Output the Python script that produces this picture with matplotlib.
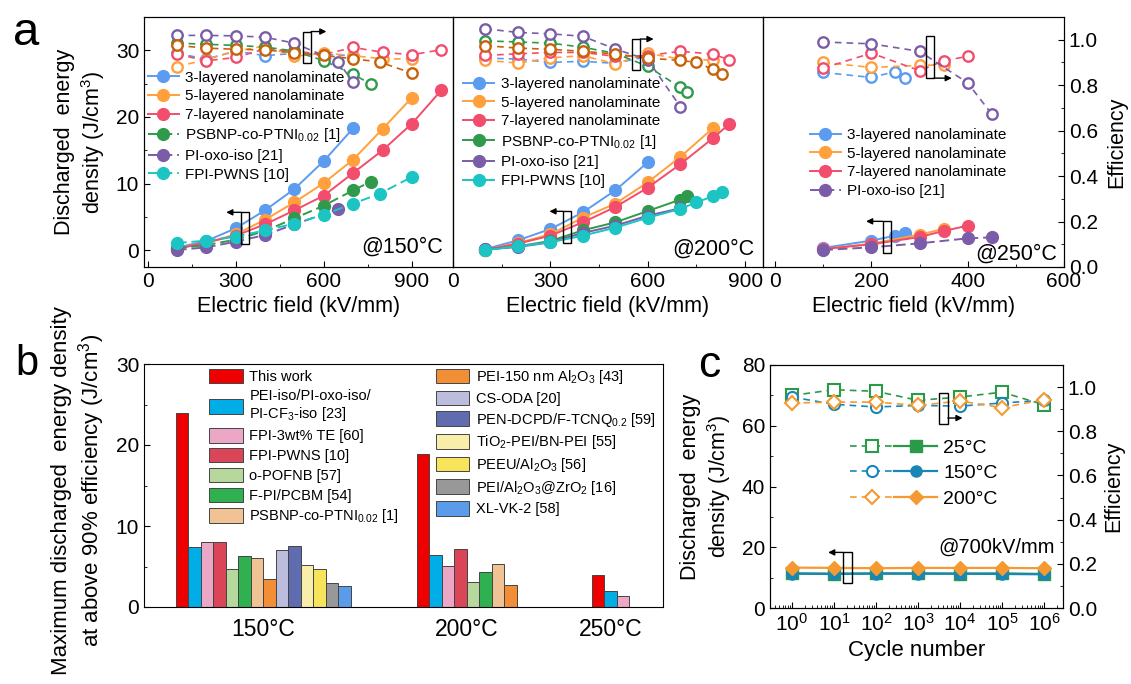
import numpy as np
import matplotlib
matplotlib.use('Agg')
import matplotlib.pyplot as plt
from matplotlib.patches import Rectangle, Patch
from matplotlib.ticker import MultipleLocator, LogLocator, NullFormatter
from matplotlib.legend_handler import HandlerTuple

plt.rcParams['font.family'] = ['Liberation Sans', 'DejaVu Sans']
plt.rcParams['mathtext.fontset'] = 'custom'
plt.rcParams['mathtext.rm'] = 'Liberation Sans'
plt.rcParams['mathtext.it'] = 'Liberation Sans:italic'
plt.rcParams['mathtext.bf'] = 'Liberation Sans:bold'
plt.rcParams['xtick.direction'] = 'in'
plt.rcParams['ytick.direction'] = 'in'
plt.rcParams['xtick.major.size'] = 4
plt.rcParams['ytick.major.size'] = 4
plt.rcParams['xtick.minor.size'] = 2.2
plt.rcParams['ytick.minor.size'] = 2.2

# colores
C3 = '#5b9cf0'
C5 = '#ffa03c'
C7 = '#f24d6c'
CPS = '#2f9a4c'
CPI = '#7b5ca8'
CFP = '#1cc4c4'
CFP_EFF = '#c8620a'

# ---------------- panel a: 150 C ----------------
a150_3_x = [100, 200, 300, 400, 500, 600, 700]
a150_3_E = [0.4, 1.4, 3.3, 6.0, 9.2, 13.4, 18.3]
a150_3_eff = [0.94, 0.915, 0.95, 0.93, 0.94, 0.935, 0.93]
a150_5_x = [100, 200, 300, 400, 500, 600, 700, 800, 900]
a150_5_E = [0.3, 1.1, 2.4, 4.6, 7.2, 10.1, 13.6, 18.2, 22.9]
a150_5_eff = [0.882, 0.912, 0.95, 0.972, 0.927, 0.941, 0.93, 0.916, 0.915]
a150_7_x = [100, 200, 300, 400, 500, 600, 700, 800, 900, 1000]
a150_7_E = [0.2, 1.2, 2.2, 3.9, 6.0, 8.2, 11.6, 15.0, 19.0, 24.0]
a150_7_eff = [0.937, 0.907, 0.922, 0.96, 0.95, 0.935, 0.966, 0.945, 0.934, 0.956]
a150_ps_x = [100, 200, 300, 400, 500, 600, 700, 760]
a150_ps_E = [0.3, 0.8, 1.6, 2.9, 4.8, 6.7, 9.0, 10.3]
a150_ps_eff = [0.985, 0.98, 0.975, 0.968, 0.95, 0.908, 0.848, 0.805]
a150_pi_x = [100, 200, 300, 400, 500, 650]
a150_pi_E = [0.05, 0.45, 1.3, 2.3, 3.9, 6.2]
a150_pi_eff_x = [100, 200, 300, 400, 500, 650, 700]
a150_pi_eff = [1.019, 1.019, 1.017, 1.011, 0.985, 0.902, 0.813]
a150_fp_x = [100, 200, 300, 400, 500, 600, 700, 790, 900]
a150_fp_E = [1.1, 1.45, 2.05, 3.0, 4.0, 5.35, 7.0, 8.5, 11.0]
a150_fp_eff = [0.975, 0.963, 0.958, 0.955, 0.943, 0.931, 0.916, 0.902, 0.853]

# ---------------- panel a: 200 C ----------------
a200_3_x = [100, 200, 300, 400, 500, 600]
a200_3_E = [0.2, 1.5, 3.2, 5.7, 9.0, 13.2]
a200_3_eff = [0.919, 0.915, 0.9, 0.905, 0.896, 0.927]
a200_5_x = [100, 200, 300, 400, 500, 600, 700, 800]
a200_5_E = [0.1, 1.1, 2.4, 4.9, 7.0, 10.2, 14.0, 18.3]
a200_5_eff = [0.91, 0.897, 0.92, 0.93, 0.894, 0.94, 0.915, 0.91]
a200_7_x = [100, 200, 300, 400, 500, 600, 700, 800, 850]
a200_7_E = [0.1, 1.0, 2.2, 4.2, 6.5, 9.4, 12.9, 16.8, 18.9]
a200_7_eff = [0.931, 0.938, 0.944, 0.944, 0.927, 0.93, 0.949, 0.937, 0.912]
a200_ps_x = [100, 200, 300, 400, 500, 600, 700, 720]
a200_ps_E = [0.1, 0.6, 1.4, 3.0, 4.2, 5.9, 7.6, 8.1]
a200_ps_eff = [0.995, 0.99, 0.985, 0.967, 0.94, 0.883, 0.79, 0.772]
a200_pi_x = [100, 200, 300, 400, 500, 600, 700]
a200_pi_E = [0.15, 0.5, 1.2, 2.6, 3.7, 5.2, 6.3]
a200_pi_eff = [1.048, 1.032, 1.026, 1.015, 0.959, 0.912, 0.706]
a200_fp_x = [100, 200, 300, 400, 500, 600, 700, 750, 800, 830]
a200_fp_E = [0.05, 0.6, 1.2, 2.2, 3.4, 4.9, 6.2, 7.2, 8.1, 8.8]
a200_fp_eff = [0.974, 0.963, 0.958, 0.949, 0.937, 0.919, 0.909, 0.9, 0.87, 0.85]

# ---------------- panel a: 250 C ----------------
a250_3_x = [100, 200, 250, 270]
a250_3_E = [0.36, 1.46, 2.2, 2.6]
a250_3_eff = [0.856, 0.834, 0.86, 0.831]
a250_5_x = [100, 200, 300, 350]
a250_5_E = [0.2, 1.0, 2.36, 3.2]
a250_5_eff = [0.9, 0.878, 0.887, 0.89]
a250_7_x = [100, 200, 300, 350, 400]
a250_7_E = [0.2, 0.9, 2.0, 2.9, 3.7]
a250_7_eff = [0.875, 0.941, 0.864, 0.907, 0.927]
a250_pi_x = [100, 200, 300, 400, 450]
a250_pi_E = [0.05, 0.45, 1.05, 1.8, 1.95]
a250_pi_eff = [0.99, 0.982, 0.949, 0.81, 0.673]

# ---------------- panel b ----------------
b_labels = ['This work', 'PEI-iso/PI-oxo-iso/\nPI-CF$_3$-iso [23]', 'FPI-3wt% TE [60]',
            'FPI-PWNS [10]', 'o-POFNB [57]', 'F-PI/PCBM [54]', 'PSBNP-co-PTNI$_{0.02}$ [1]',
            'PEI-150 nm Al$_2$O$_3$ [43]', 'CS-ODA [20]', 'PEN-DCPD/F-TCNQ$_{0.2}$ [59]',
            'TiO$_2$-PEI/BN-PEI [55]', 'PEEU/Al$_2$O$_3$ [56]', 'PEI/Al$_2$O$_3$@ZrO$_2$ [16]',
            'XL-VK-2 [58]']
b_colors = ['#ee0000', '#00ade6', '#eca6c6', '#da4658', '#b6d89c', '#2fb152', '#f0c294',
            '#f28e36', '#bcbcdc', '#5f6db0', '#f8eeaa', '#f8e45a', '#989898', '#5a9cea']
b_groups = ['150°C', '200°C', '250°C']
b_150 = [24.0, 7.4, 8.0, 8.0, 4.7, 6.3, 6.1, 3.45, 7.0, 7.5, 5.2, 4.7, 3.0, 2.6]
b_200 = [18.9, 6.4, 5.1, 7.1, 3.1, 4.3, 5.3, 2.7]
b_250 = [3.9, 2.0, 1.3]

# ---------------- panel c ----------------
c_cycles = [1, 10, 100, 1e3, 1e4, 1e5, 1e6]
c_E25 = [11.4, 11.3, 11.4, 11.4, 11.3, 11.4, 11.2]
c_E150 = [11.3, 11.2, 11.3, 11.3, 11.3, 11.2, 11.1]
c_E200 = [13.3, 13.2, 13.1, 13.2, 13.2, 13.2, 13.1]
c_eff25 = [0.962, 0.988, 0.981, 0.94, 0.955, 0.977, 0.92]
c_eff150 = [0.955, 0.922, 0.91, 0.917, 0.914, 0.928, 0.94]
c_eff200 = [0.928, 0.932, 0.932, 0.917, 0.937, 0.907, 0.943]

W, H = 1131, 684
fig = plt.figure(figsize=(W / 100, H / 100), dpi=100)


def px_axes(x0, x1, y0, y1):
    return fig.add_axes([x0 / W, 1 - y1 / H, (x1 - x0) / W, (y1 - y0) / H])


def box_arrow(ax, x0, x1, y0, y1, ya, xa_from, xa_to):
    ax.add_patch(Rectangle((x0, y0), x1 - x0, y1 - y0, fill=False, ec='k', lw=1.0, zorder=6))
    ax.annotate('', xy=(xa_to, ya), xytext=(xa_from, ya),
                arrowprops=dict(arrowstyle='-|>', color='k', lw=1.0, mutation_scale=9,
                                shrinkA=0, shrinkB=0), zorder=6)


def draw_a(ax, axr, curves):
    for name, col, ecol, x, E, ls, ex, eff in curves:
        axr.plot(ex, eff, ls=(0, (4, 3)), color=ecol, lw=1.2, marker='o', ms=7.5,
                 mfc='white', mec=ecol, mew=1.7)
        ax.plot(x, E, ls=ls, color=col, lw=1.4, marker='o', ms=8.5, mec=col, label=name)


axes_a = [px_axes(144, 453, 17, 267), px_axes(453, 763, 17, 267), px_axes(763, 1064, 17, 267)]
curves_150 = [
    ('3-layered nanolaminate', C3, C3, a150_3_x, a150_3_E, '-', a150_3_x, a150_3_eff),
    ('5-layered nanolaminate', C5, C5, a150_5_x, a150_5_E, '-', a150_5_x, a150_5_eff),
    ('7-layered nanolaminate', C7, C7, a150_7_x, a150_7_E, '-', a150_7_x, a150_7_eff),
    ('PSBNP-co-PTNI$_{0.02}$ [1]', CPS, CPS, a150_ps_x, a150_ps_E, (0, (5, 2.5)), a150_ps_x, a150_ps_eff),
    ('PI-oxo-iso [21]', CPI, CPI, a150_pi_x, a150_pi_E, (0, (5, 2.5)), a150_pi_eff_x, a150_pi_eff),
    ('FPI-PWNS [10]', CFP, CFP_EFF, a150_fp_x, a150_fp_E, (0, (5, 2.5)), a150_fp_x, a150_fp_eff),
]
curves_200 = [
    ('3-layered nanolaminate', C3, C3, a200_3_x, a200_3_E, '-', a200_3_x, a200_3_eff),
    ('5-layered nanolaminate', C5, C5, a200_5_x, a200_5_E, '-', a200_5_x, a200_5_eff),
    ('7-layered nanolaminate', C7, C7, a200_7_x, a200_7_E, '-', a200_7_x, a200_7_eff),
    ('PSBNP-co-PTNI$_{0.02}$ [1]', CPS, CPS, a200_ps_x, a200_ps_E, '-', a200_ps_x, a200_ps_eff),
    ('PI-oxo-iso [21]', CPI, CPI, a200_pi_x, a200_pi_E, '-', a200_pi_x, a200_pi_eff),
    ('FPI-PWNS [10]', CFP, CFP_EFF, a200_fp_x, a200_fp_E, '-', a200_fp_x, a200_fp_eff),
]
curves_250 = [
    ('3-layered nanolaminate', C3, C3, a250_3_x, a250_3_E, '-', a250_3_x, a250_3_eff),
    ('5-layered nanolaminate', C5, C5, a250_5_x, a250_5_E, '-', a250_5_x, a250_5_eff),
    ('7-layered nanolaminate', C7, C7, a250_7_x, a250_7_E, '-', a250_7_x, a250_7_eff),
    ('PI-oxo-iso [21]', CPI, CPI, a250_pi_x, a250_pi_E, (0, (5, 2.5)), a250_pi_x, a250_pi_eff),
]
all_curves = [curves_150, curves_200, curves_250]
xlims = [(-12, 1040), (0, 955), (-25, 600)]
xmaj = [300, 300, 200]
temps = ['@150°C', '@200°C', '@250°C']
leg_anchor = [(0.013, 0.785), (0.033, 0.76), (0.156, 0.555)]
temp_pos = [(0.968, 0.056), (0.971, 0.048), (0.977, 0.028)]
boxes_E = [(319, 345, 0.9, 5.7, 268), (340, 364, 1.15, 5.85, 297), (224, 240, -0.4, 4.35, 189)]
boxes_eff = [(530, 557, 0.897, 1.036, 1.036, 609), (551, 577, 0.865, 1.003, 1.003, 618),
             (314, 330, 0.831, 1.018, 0.831, 367)]

for i, ax in enumerate(axes_a):
    axr = ax.twinx()
    draw_a(ax, axr, all_curves[i])
    ax.set_xlim(*xlims[i])
    ax.set_ylim(-2.5, 35)
    axr.set_ylim(0, 1.1)
    ax.xaxis.set_major_locator(MultipleLocator(xmaj[i]))
    ax.xaxis.set_minor_locator(MultipleLocator(xmaj[i] / 2))
    ax.yaxis.set_major_locator(MultipleLocator(10))
    ax.yaxis.set_minor_locator(MultipleLocator(5))
    axr.yaxis.set_major_locator(MultipleLocator(0.2))
    axr.yaxis.set_minor_locator(MultipleLocator(0.1))
    ax.tick_params(labelsize=15)
    axr.tick_params(labelsize=15)
    if i > 0:
        ax.tick_params(axis='y', which='both', left=False, labelleft=False)
    if i < 2:
        axr.tick_params(axis='y', which='both', right=False, labelright=False)
    ax.set_xlabel('Electric field (kV/mm)', fontsize=15.5)
    ax.text(temp_pos[i][0], temp_pos[i][1], temps[i], transform=ax.transAxes,
            ha='right', va='baseline', fontsize=15.5)
    ax.legend(loc='upper left', bbox_to_anchor=leg_anchor[i], borderaxespad=0, borderpad=0,
              frameon=False, fontsize=11, handlelength=2.0, handletextpad=0.45,
              labelspacing=0.3)
    x0, x1, y0, y1, xt = boxes_E[i]
    box_arrow(ax, x0, x1, y0, y1, y1, x0, xt)
    x0, x1, y0, y1, ya, xt = boxes_eff[i]
    box_arrow(axr, x0, x1, y0, y1, ya, x1, xt)
    if i == 0:
        ax.set_ylabel('Discharged  energy\ndensity (J/cm$^3$)', fontsize=15.5)
        ax.yaxis.set_label_coords(-0.12, 0.5)
    if i == 2:
        axr.set_ylabel('Efficiency', fontsize=15.5)
        axr.yaxis.set_label_coords(1.14, 0.5)

# ---------------- panel b ----------------
ax_b = px_axes(144, 663, 364, 607)
starts = [0.0, 19.3, 33.3]
centers = []
for s, vals in zip(starts, [b_150, b_200, b_250]):
    pos = s + np.arange(len(vals))
    ax_b.bar(pos, vals, width=1.0, color=b_colors[:len(vals)], edgecolor='#444444', linewidth=0.7)
    centers.append(s + (len(vals) - 1) / 2)
ax_b.set_xlim(-3.04, 38.5)
ax_b.set_ylim(0, 30)
ax_b.set_xticks(centers)
ax_b.set_xticklabels(b_groups, fontsize=16.5)
ax_b.tick_params(axis='x', length=0, pad=8)
ax_b.yaxis.set_major_locator(MultipleLocator(10))
ax_b.yaxis.set_minor_locator(MultipleLocator(5))
ax_b.tick_params(axis='y', labelsize=15)
ax_b.set_ylabel('Maximum discharged  energy density\nat above 90% efficiency (J/cm$^3$)', fontsize=16)
ax_b.yaxis.set_label_coords(-0.071, 0.48)
handles_b = [Patch(facecolor=c, edgecolor='#444444', linewidth=0.7, label=l)
             for c, l in zip(b_colors, b_labels)]
ax_b.legend(handles=handles_b, ncol=2, loc='upper left', bbox_to_anchor=(0.12, 0.995),
            borderaxespad=0, borderpad=0.2, frameon=False, fontsize=10.5, handlelength=2.3,
            handleheight=1.15, handletextpad=0.45, labelspacing=0.32, columnspacing=2.5)

# ---------------- panel c ----------------
ax_c = px_axes(770, 1063, 365, 608)
ax_c.set_xscale('log')
axr_c = ax_c.twinx()
CG = '#2a9a48'
CB = '#1a86b6'
CO = '#f59a30'
series_c = [('25°C', CG, 's', c_E25, c_eff25), ('150°C', CB, 'o', c_E150, c_eff150),
            ('200°C', CO, 'D', c_E200, c_eff200)]
leg_h = []
for name, col, mk, E, eff in series_c:
    ms = 7 if mk == 'D' else 8
    le, = axr_c.plot(c_cycles, eff, ls=(0, (4, 3)), color=col, lw=1.2, marker=mk, ms=ms,
                     mfc='white', mec=col, mew=1.5)
    lf, = ax_c.plot(c_cycles, E, ls='-', color=col, lw=1.6, marker=mk, ms=ms, mec=col)
    leg_h.append((le, lf))
ax_c.set_xlim(10 ** -0.52, 10 ** 6.45)
ax_c.set_ylim(0, 80)
axr_c.set_ylim(0, 1.1)
ax_c.xaxis.set_major_locator(LogLocator(base=10, numticks=20))
ax_c.xaxis.set_minor_locator(LogLocator(base=10, subs=np.arange(2, 10), numticks=20))
ax_c.xaxis.set_minor_formatter(NullFormatter())
ax_c.yaxis.set_major_locator(MultipleLocator(20))
ax_c.yaxis.set_minor_locator(MultipleLocator(10))
axr_c.yaxis.set_major_locator(MultipleLocator(0.2))
axr_c.yaxis.set_minor_locator(MultipleLocator(0.1))
ax_c.tick_params(labelsize=15)
axr_c.tick_params(labelsize=15)
ax_c.set_xlabel('Cycle number', fontsize=16)
ax_c.set_ylabel('Discharged  energy\ndensity (J/cm$^3$)', fontsize=15.5)
ax_c.yaxis.set_label_coords(-0.126, 0.5)
axr_c.set_ylabel('Efficiency', fontsize=15.5)
axr_c.yaxis.set_label_coords(1.137, 0.5)
axr_c.legend(leg_h, [s[0] for s in series_c], handler_map={tuple: HandlerTuple(ndivide=None, pad=0)},
             loc='upper left', bbox_to_anchor=(0.273, 0.695), borderaxespad=0, borderpad=0,
             frameon=False, fontsize=14, handlelength=4.5, handletextpad=0.3, labelspacing=0.4)
ax_c.text(0.973, 0.226, '@700kV/mm', transform=ax_c.transAxes, ha='right', va='baseline',
          fontsize=14.5)
box_arrow(ax_c, 16.6, 26.3, 8.1, 18.3, 18.3, 16.6, 7.3)
box_arrow(axr_c, 3236, 5129, 0.835, 0.975, 0.86, 5129, 11500)

# letras de panel
fig.text(13 / W, 1 - 45 / H, 'a', fontsize=34, va='baseline')
fig.text(15 / W, 1 - 375 / H, 'b', fontsize=30, va='baseline')
fig.text(698 / W, 1 - 377 / H, 'c', fontsize=32, va='baseline')

fig.savefig('out.png', dpi=100)
